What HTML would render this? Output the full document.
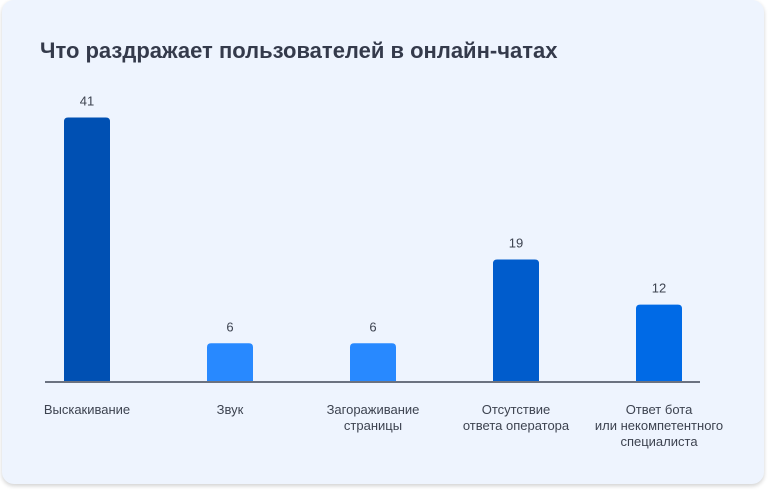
<!DOCTYPE html>
<html><head><meta charset="utf-8">
<style>
html,body{margin:0;padding:0;background:#fff;width:768px;height:491px;overflow:hidden;font-family:"Liberation Sans",sans-serif;}
.card{position:absolute;left:2px;top:0;width:762px;height:484px;background:#eef4fe;border-radius:12px;box-shadow:0 2px 4px rgba(0,0,0,0.18);}
</style></head><body>
<div class="card"></div>
<svg width="768" height="491" style="position:absolute;left:0;top:0">
<text x="40" y="58" font-size="22" font-weight="bold" fill="#343a4b" font-family="Liberation Sans, sans-serif">Что раздражает пользователей в онлайн-чатах</text>
<g id="bars"></g>
<line x1="45" y1="382" x2="700" y2="382" stroke="#6b7280" stroke-width="2"/>
</svg>
<script>
const categories=[["Выскакивание"],["Звук"],["Загораживание","страницы"],["Отсутствие","ответа оператора"],["Ответ бота","или некомпетентного","специалиста"]];
const values=[41,6,6,19,12];
const colors=["#0050b3","#2889ff","#2889ff","#005ccc","#006ae6"];
const baseY=382, pxPerUnit=6.45, x0=87, step=143, bw=46;
function xScale(i){return x0+i*step;}
function yScale(v){return baseY-v*pxPerUnit;}
const g=document.getElementById('bars');
const NS="http://www.w3.org/2000/svg";
values.forEach((v,i)=>{
  const cx=xScale(i), top=yScale(v), h=baseY-top;
  const p=document.createElementNS(NS,'path');
  const r=4,l=cx-bw/2;
  p.setAttribute('d',`M${l},${baseY}V${top+r}Q${l},${top} ${l+r},${top}H${l+bw-r}Q${l+bw},${top} ${l+bw},${top+r}V${baseY}Z`);
  p.setAttribute('fill',colors[i]);
  
  
  g.appendChild(p);
  const t=document.createElementNS(NS,'text');
  t.setAttribute('x',cx);t.setAttribute('y',top-12);
  t.setAttribute('text-anchor','middle');t.setAttribute('font-size','13');t.setAttribute('fill','#3d4350');
  t.textContent=v;
  
  
  g.appendChild(t);
  categories[i].forEach((line,j)=>{
    const c=document.createElementNS(NS,'text');
    c.setAttribute('x',cx);c.setAttribute('y',414+j*16);
    c.setAttribute('text-anchor','middle');c.setAttribute('font-size','13');c.setAttribute('fill','#3d4350');
    c.textContent=line;
    
    
    g.appendChild(c);
  });
});
</script>
</body></html>
